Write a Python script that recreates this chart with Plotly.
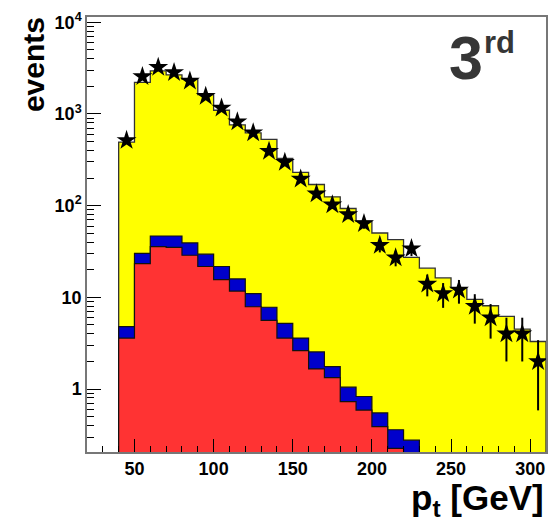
import numpy as np
import plotly.graph_objects as go

# ---- data ----
bin_low = [40, 50, 60, 70, 80, 90, 100, 110, 120, 130, 140, 150, 160, 170, 180,
           190, 200, 210, 220, 230, 240, 250, 260, 270, 280, 290, 300]
bin_width = 10

red_comp = [3.6, 23.3, 35.7, 35.0, 28.8, 21.7, 15.6, 11.7, 7.9, 5.6, 3.6, 2.63,
            1.66, 1.33, 0.73, 0.59, 0.39, 0.226]
blue_comp = [1.2, 6.8, 11.0, 11.7, 10.4, 7.9, 6.1, 4.2, 3.1, 2.2, 1.6, 0.97,
             0.88, 0.43, 0.32, 0.24, 0.16, 0.134, 0.277]
yellow_comp = [489, 2178, 2899, 2624, 2356, 1599, 1076, 743, 612, 520, 323, 227.4,
               167.5, 123.2, 92, 66.8, 49.75, 42.2, 27.0, 20.8, 16.3, 12.7, 9.5,
               8.1, 6.2, 4.5, 3.3]

data_x = [45, 55, 65, 75, 85, 95, 105, 115, 125, 135, 145, 155, 165, 175, 185,
          195, 205, 215, 225, 235, 245, 255, 265, 275, 285, 295, 305]
data_y = [515, 2560, 3220, 2830, 2280, 1563, 1162, 823, 623, 392, 297, 195, 135,
          102, 80, 64, 37, 27, 34, 14, 11, 12, 8, 6, 4, 4, 2]

y_tickvals = [1, 10, 100, 1000, 10000]
y_ticktext = ["1", "10", "10<sup>2</sup>", "10<sup>3</sup>", "10<sup>4</sup>"]
x_tickvals = [50, 100, 150, 200, 250, 300]

# ---- stacking ----
nb = len(bin_low)
def pad(a):
    return np.array(list(a) + [0.0] * (nb - len(a)), dtype=float)

lvl_red = pad(red_comp)
lvl_blue = lvl_red + pad(blue_comp)
lvl_total = lvl_blue + pad(yellow_comp)

YMIN = 0.05  # below visible range, closes the fill polygons

def step_trace(levels, fillcolor, linecolor, lw):
    n = int(np.max(np.nonzero(levels > 0)[0])) + 1
    xs = [bin_low[0]] + bin_low[:n] + [bin_low[n - 1] + bin_width]
    ys = [YMIN] + list(levels[:n]) + [YMIN]
    return go.Scatter(x=xs, y=ys, mode="lines", line_shape="hv",
                      fill="toself", fillcolor=fillcolor,
                      line=dict(color=linecolor, width=lw),
                      hoverinfo="skip", showlegend=False)

fig = go.Figure()
fig.add_trace(step_trace(lvl_total, "#FFFF00", "#333333", 1.3))
fig.add_trace(step_trace(lvl_blue, "#0000CC", "#111111", 1.2))
fig.add_trace(step_trace(lvl_red, "#FF3333", "#111111", 1.2))

fig.add_trace(go.Scatter(
    x=data_x, y=data_y, mode="markers",
    marker=dict(symbol="star", size=15, color="black"),
    error_y=dict(type="data", array=list(np.sqrt(data_y)), color="black",
                 thickness=2, width=0),
    showlegend=False))

bold = dict(family="Liberation Sans, Arial, sans-serif", weight="bold", color="black")

fig.update_layout(
    width=558, height=523,
    margin=dict(l=87, r=10, t=10, b=71),
    paper_bgcolor="white", plot_bgcolor="white",
    xaxis=dict(range=[20, 310], tickmode="array", tickvals=x_tickvals,
               ticks="inside", ticklen=13, tickwidth=1, tickcolor="black",
               minor=dict(ticks="inside", dtick=10, tick0=0, ticklen=6,
                          tickcolor="black", tickwidth=1),
               showline=True, linecolor="#777777", linewidth=1.5, mirror=True,
               showgrid=False, zeroline=False,
               tickfont=dict(size=18, **bold)),
    yaxis=dict(type="log", range=[np.log10(0.206), 4.057],
               tickmode="array", tickvals=y_tickvals, ticktext=y_ticktext,
               ticks="inside", ticklen=14, tickwidth=1, tickcolor="black",
               minor=dict(ticks="inside", tickmode="array",
                          tickvals=[m * 10 ** e for e in range(-1, 4) for m in range(2, 10)],
                          ticklen=7, tickcolor="black", tickwidth=1),
               showline=True, linecolor="#777777", linewidth=1.5, mirror=True,
               showgrid=False, zeroline=False,
               tickfont=dict(size=18, **bold)),
)

fig.add_annotation(text="events", textangle=-90, xref="paper", yref="paper",
                   x=-0.118, y=0.8914, xanchor="center", yanchor="middle",
                   showarrow=False, font=dict(size=30, **bold))
fig.add_annotation(text="p<sub>t</sub> [GeV]", xref="paper", yref="paper",
                   x=1.0, y=-0.111, xanchor="right", yanchor="middle",
                   showarrow=False, font=dict(size=35, **bold))
fig.add_annotation(text="3", xref="paper", yref="paper",
                   x=(467.5 - 87) / 461, y=(452 - 51.2) / 442,
                   xanchor="center", yanchor="middle", showarrow=False,
                   font=dict(size=61, family="Liberation Sans, Arial, sans-serif",
                             weight="bold", color="#363636"))
fig.add_annotation(text="rd", xref="paper", yref="paper",
                   x=(501.7 - 87) / 461, y=(452 - 36) / 442,
                   xanchor="center", yanchor="middle", showarrow=False,
                   font=dict(size=31, family="Liberation Sans, Arial, sans-serif",
                             weight="bold", color="#363636"))

fig.write_html("out.html")
